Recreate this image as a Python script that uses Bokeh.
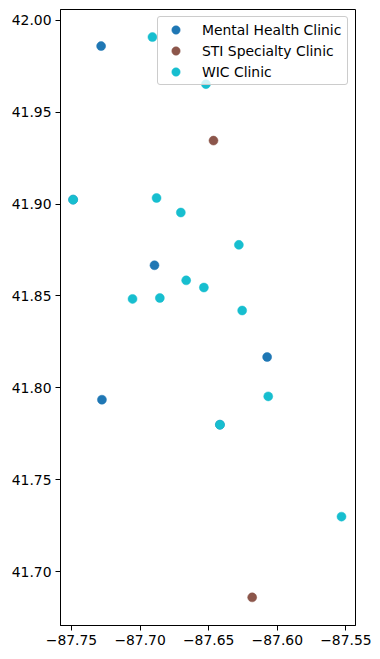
from bokeh.plotting import figure
from bokeh.models import Range1d, FixedTicker, Legend, LegendItem
from bokeh.embed import file_html
from bokeh.resources import INLINE

# ---- data ----
categories = ["Mental Health Clinic", "STI Specialty Clinic", "WIC Clinic"]
colors = ["#1f77b4", "#8c564b", "#17becf"]

mh_lon = [-87.7284, -87.6895, -87.6074, -87.7278, -87.6418, -87.7488]
mh_lat = [41.9859, 41.8667, 41.8168, 41.7936, 41.7800, 41.9024]

sti_lon = [-87.6465, -87.6183]
sti_lat = [41.9345, 41.6861]

wic_lon = [-87.6910, -87.6520, -87.7488, -87.6880, -87.6703, -87.6280, -87.6664,
           -87.6535, -87.7055, -87.6856, -87.6256, -87.6066, -87.6418, -87.5532]
wic_lat = [41.9908, 41.9652, 41.9024, 41.9033, 41.8954, 41.8778, 41.8585,
           41.8546, 41.8484, 41.8489, 41.8421, 41.7954, 41.7800, 41.7300]

x_ticks = [-87.75, -87.70, -87.65, -87.60, -87.55]
x_tick_labels = ["\u221287.75", "\u221287.70", "\u221287.65", "\u221287.60", "\u221287.55"]
y_ticks = [41.70, 41.75, 41.80, 41.85, 41.90, 41.95, 42.00]
y_tick_labels = ["41.70", "41.75", "41.80", "41.85", "41.90", "41.95", "42.00"]

FONT = "DejaVu Sans"
FS = "13.9px"

p = figure(width=372, height=651, output_backend="svg", toolbar_location=None,
           x_range=Range1d(-87.758, -87.543), y_range=Range1d(41.6708, 42.0058))
p.min_border_left = 60
p.min_border_right = 17
p.min_border_top = 9
p.min_border_bottom = 26

p.xgrid.visible = False
p.ygrid.visible = False
p.outline_line_color = "black"
p.outline_line_width = 1
p.outline_line_alpha = 1.0

series = [(mh_lon, mh_lat), (sti_lon, sti_lat), (wic_lon, wic_lat)]
renderers = []
for (xs, ys), c in zip(series, colors):
    r = p.scatter(xs, ys, size=9, fill_color=c, line_color=c, line_width=0.5)
    renderers.append(r)

for ax in (p.xaxis[0], p.yaxis[0]):
    ax.axis_line_color = "black"
    ax.major_tick_line_color = "black"
    ax.major_tick_in = 0
    ax.major_tick_out = 5
    ax.minor_tick_line_color = None
    ax.major_label_standoff = 4
    ax.major_label_text_font = FONT
    ax.major_label_text_font_size = FS
    ax.major_label_text_color = "black"

p.xaxis[0].ticker = FixedTicker(ticks=x_ticks)
p.xaxis[0].major_label_overrides = {t: l for t, l in zip(x_ticks, x_tick_labels)}
p.yaxis[0].ticker = FixedTicker(ticks=y_ticks)
p.yaxis[0].major_label_overrides = {t: l for t, l in zip(y_ticks, y_tick_labels)}

items = [LegendItem(label=cat, renderers=[r]) for cat, r in zip(categories, renderers)]
legend = Legend(items=items, location="top_right", margin=7,
                padding=2, spacing=0, glyph_height=21, glyph_width=31,
                label_height=21, label_standoff=11, label_width=143,
                label_text_font=FONT, label_text_font_size=FS,
                label_text_color="black",
                background_fill_alpha=0.8, border_line_color="#cccccc",
                border_line_alpha=1.0, border_line_width=1)
if "border_radius" in Legend.properties():
    legend.border_radius = 3
p.add_layout(legend)

open("out.html", "w").write(file_html(p, INLINE))
